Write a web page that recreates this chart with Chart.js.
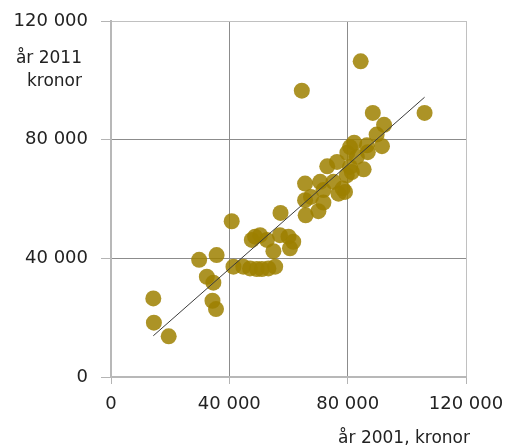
<!DOCTYPE html>
<html>
<head>
<meta charset="utf-8">
<script src="https://cdn.jsdelivr.net/npm/chart.js@4"></script>
<style>
  html, body { margin: 0; padding: 0; background: #ffffff; }
  #wrap { width: 506px; height: 448px; }
</style>
</head>
<body>
<div id="wrap"><canvas id="c" width="506" height="448"></canvas></div>
<script>
// Income per municipality, 2001 (x) vs 2011 (y), kronor
const x2001 = [14300, 14500, 19500, 29800, 32400, 34600, 34300, 35500, 35700, 40800,
               41400, 44700, 47000, 49300, 51000, 53200, 55500, 47600, 48700, 50400,
               52700, 54900, 57100, 60000, 61600, 60500, 57300, 65800, 65600, 67600,
               70100, 71800, 71800, 65600, 70700, 75200, 78300, 79100, 76900, 73100,
               76400, 79700, 81400, 85400, 83100, 79900, 86800, 86500, 80800, 82200,
               91600, 89800, 92300, 88500, 106000, 84400, 64500, 80800];
const y2011 = [26500, 18300, 13700, 39500, 33800, 31800, 25700, 22900, 41100, 52500,
               37200, 37200, 36600, 36400, 36400, 36600, 37200, 46200, 47300, 47800,
               46200, 42400, 47800, 47300, 45600, 43400, 55300, 54500, 59600, 60700,
               55900, 58800, 63000, 65200, 65800, 65800, 63500, 62400, 61800, 71000,
               72500, 68000, 69100, 70000, 74200, 75600, 75800, 78100, 77500, 79000,
               77800, 81700, 85000, 89000, 89000, 106400, 96500, 70800];
// Trend line end points
const trendX = [14300, 106000];
const trendY = [13900, 94300];
// Axis ticks
const tickValues = [0, 40000, 80000, 120000];
const xTitle = 'år 2001, kronor';
const yTitleLines = ['år 2011', 'kronor'];

const fmt = v => String(v).replace(/\B(?=(\d{3})+(?!\d))/g, ' ');
const points = x2001.map((x, i) => ({ x: x, y: y2011[i] }));
const trend = trendX.map((x, i) => ({ x: x, y: trendY[i] }));

const FONT = 'DejaVu Sans';

const titlePlugin = {
  id: 'titles',
  afterDraw(chart) {
    const ctx = chart.ctx;
    ctx.save();
    ctx.fillStyle = '#222222';
    ctx.font = '17px "' + FONT + '"';
    ctx.textAlign = 'right';
    ctx.textBaseline = 'alphabetic';
    ctx.fillText(yTitleLines[0], 82, 63);
    ctx.fillText(yTitleLines[1], 82, 86);
    ctx.fillText(xTitle, 470, 443);
    ctx.restore();
  }
};

const gridColor = c => (c.tick && c.tick.value === 120000) ? '#c0c0c0' : '#8c8c8c';

new Chart(document.getElementById('c'), {
  type: 'scatter',
  data: {
    datasets: [
      {
        type: 'line',
        data: trend,
        borderColor: '#3a3a3a',
        borderWidth: 1,
        pointRadius: 0,
        fill: false,
        order: 0
      },
      {
        data: points,
        backgroundColor: 'rgba(158,128,0,0.85)',
        borderWidth: 0,
        pointRadius: 8,
        pointHoverRadius: 8,
        order: 1
      }
    ]
  },
  options: {
    responsive: false,
    devicePixelRatio: 1,
    animation: false,
    layout: { padding: { top: 21, right: 40, left: 0, bottom: 0 } },
    plugins: { legend: { display: false }, tooltip: { enabled: false } },
    scales: {
      x: {
        type: 'linear',
        position: 'bottom',
        min: 0, max: 120000,
        afterBuildTicks: s => { s.ticks = tickValues.map(v => ({ value: v })); },
        afterFit: s => { s.height = 71; s.paddingLeft = 0; s.paddingRight = 0; },
        ticks: {
          callback: v => fmt(v),
          font: { family: FONT, size: 18 },
          color: '#222222',
          padding: 10,
          maxRotation: 0
        },
        grid: { color: gridColor, lineWidth: 1, tickLength: 7, tickColor: '#b4b4b4' },
        border: { color: '#b8b8b8', width: 2 }
      },
      y: {
        type: 'linear',
        min: 0, max: 120000,
        afterBuildTicks: s => { s.ticks = tickValues.map(v => ({ value: v })); },
        afterFit: s => { s.width = 111; s.paddingTop = 0; s.paddingBottom = 0; },
        ticks: {
          callback: v => fmt(v),
          font: { family: FONT, size: 18 },
          color: '#222222',
          padding: 13
        },
        grid: { color: gridColor, lineWidth: 1, tickLength: 10, tickColor: '#b4b4b4' },
        border: { color: '#b8b8b8', width: 2 }
      }
    }
  },
  plugins: [titlePlugin]
});
</script>
</body>
</html>
